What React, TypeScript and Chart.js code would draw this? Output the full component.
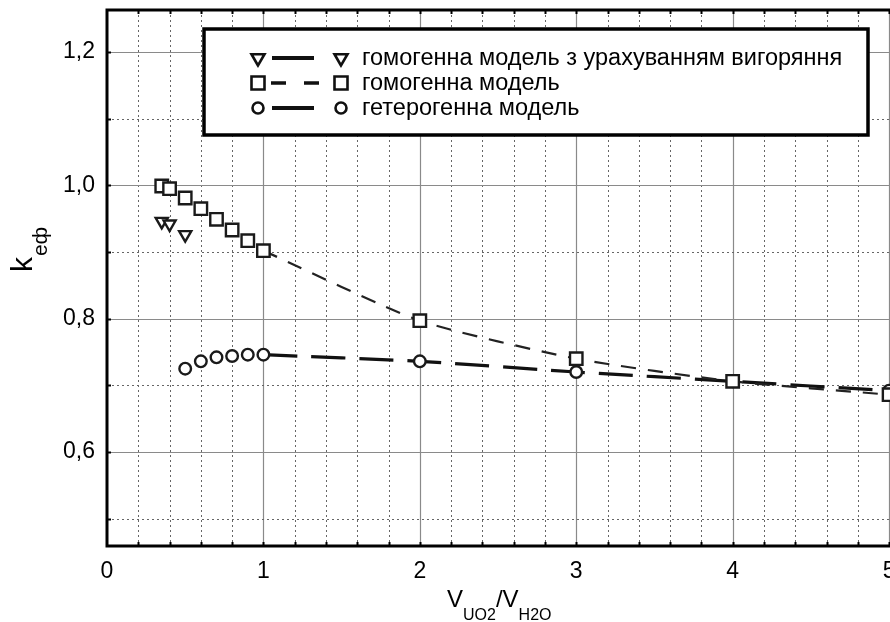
import { useEffect, useRef } from "react";
import { Chart, registerables } from "chart.js";

Chart.register(...registerables);

// ---- data ----
const burnupX = [0.35, 0.4, 0.5];
const burnupY = [0.946, 0.942, 0.926];
const homX = [0.35, 0.4, 0.5, 0.6, 0.7, 0.8, 0.9, 1, 2, 3, 4, 5];
const homY = [0.999, 0.995, 0.981, 0.965, 0.949, 0.933, 0.917, 0.902, 0.797, 0.74, 0.706, 0.686];
const hetX = [0.5, 0.6, 0.7, 0.8, 0.9, 1, 2, 3, 4, 5];
const hetY = [0.725, 0.736, 0.742, 0.744, 0.746, 0.746, 0.736, 0.72, 0.706, 0.692];
const xTickValues = [0, 1, 2, 3, 4, 5];
const yTickValues = [0.6, 0.8, 1.0, 1.2];
const legendLabels = [
  "гомогенна модель з урахуванням вигоряння",
  "гомогенна модель",
  "гетерогенна модель",
];
const xAxisMain = ["V", "/V"];
const xAxisSubs = ["UO2", "H2O"];
const yAxisMain = "k";
const yAxisSub = "еф";

const FONT = "'Liberation Sans', Arial, sans-serif";

const pts = (xs: number[], ys: number[]) => xs.map((x, i) => ({ x, y: ys[i] }));
const fromOne = (xs: number[], ys: number[]) =>
  pts(xs, ys).filter((p) => p.x >= 1);

function drawMarker(ctx: CanvasRenderingContext2D, kind: string, x: number, y: number) {
  ctx.save();
  ctx.lineWidth = 2.6;
  ctx.strokeStyle = "#111";
  ctx.fillStyle = "#fff";
  ctx.beginPath();
  if (kind === "tri") {
    const r = 7.5;
    ctx.moveTo(x, y + r);
    ctx.lineTo(x - r * 0.866, y - r / 2);
    ctx.lineTo(x + r * 0.866, y - r / 2);
    ctx.closePath();
  } else if (kind === "rect") {
    ctx.rect(x - 6.5, y - 6.5, 13, 13);
  } else {
    ctx.arc(x, y, 5.5, 0, Math.PI * 2);
  }
  ctx.fill();
  ctx.stroke();
  ctx.restore();
}

const gridPlugin = {
  id: "customGrid",
  beforeDatasetsDraw(chart: any) {
    const { ctx, chartArea, scales } = chart;
    const { left, right, top, bottom } = chartArea;
    const xs = scales.x;
    const ys = scales.y;
    ctx.save();
    // vertical grid
    for (let i = 1; i <= 26; i++) {
      const v = i * 0.2;
      const px = Math.round(xs.getPixelForValue(v)) + 0.5;
      const major = i % 5 === 0;
      ctx.beginPath();
      if (major) {
        ctx.setLineDash([]);
        ctx.strokeStyle = "#8a8a8a";
        ctx.lineWidth = 1.2;
      } else {
        ctx.setLineDash([2, 3]);
        ctx.strokeStyle = "#666";
        ctx.lineWidth = 1;
      }
      ctx.moveTo(px, top);
      ctx.lineTo(px, bottom);
      ctx.stroke();
    }
    // horizontal grid
    for (let i = 5; i <= 12; i++) {
      const v = i / 10;
      const py = Math.round(ys.getPixelForValue(v)) + 0.5;
      const major = i % 2 === 0;
      ctx.beginPath();
      if (major) {
        ctx.setLineDash([]);
        ctx.strokeStyle = "#8a8a8a";
        ctx.lineWidth = 1.2;
      } else {
        ctx.setLineDash([2, 3]);
        ctx.strokeStyle = "#666";
        ctx.lineWidth = 1;
      }
      ctx.moveTo(left, py);
      ctx.lineTo(right, py);
      ctx.stroke();
    }
    ctx.setLineDash([]);
    // small tick marks
    ctx.strokeStyle = "#000";
    ctx.lineWidth = 2;
    for (let i = 1; i <= 26; i++) {
      const px = Math.round(xs.getPixelForValue(i * 0.2)) + 0.5;
      ctx.beginPath();
      ctx.moveTo(px, top);
      ctx.lineTo(px, top + 4);
      ctx.moveTo(px, bottom);
      ctx.lineTo(px, bottom - 4);
      ctx.stroke();
    }
    for (let i = 5; i <= 12; i++) {
      const py = Math.round(ys.getPixelForValue(i / 10)) + 0.5;
      ctx.beginPath();
      ctx.moveTo(left, py);
      ctx.lineTo(left + 4, py);
      ctx.stroke();
    }
    // frame
    ctx.lineWidth = 3;
    ctx.beginPath();
    ctx.moveTo(left, top);
    ctx.lineTo(right, top);
    ctx.moveTo(left, top - 1.5);
    ctx.lineTo(left, bottom + 1.5);
    ctx.moveTo(left, bottom);
    ctx.lineTo(right, bottom);
    ctx.stroke();
    ctx.restore();
  },
  afterDraw(chart: any) {
    const { ctx } = chart;
    ctx.save();
    // ---- legend ----
    const bx = 204, by = 29, bw = 664, bh = 106;
    ctx.fillStyle = "#fff";
    ctx.fillRect(bx, by, bw, bh);
    ctx.strokeStyle = "#000";
    ctx.lineWidth = 3.5;
    ctx.strokeRect(bx, by, bw, bh);
    const rows = [58, 83, 108];
    const kinds = ["tri", "rect", "circ"];
    const dashes = [[], [15, 18], []];
    rows.forEach((ry, i) => {
      drawMarker(ctx, kinds[i], 258, ry);
      ctx.save();
      ctx.strokeStyle = "#111";
      ctx.lineWidth = i === 1 ? 3.5 : 4;
      ctx.setLineDash(dashes[i]);
      ctx.beginPath();
      ctx.moveTo(i === 1 ? 271 : 272, ry);
      ctx.lineTo(i === 1 ? 332 : 314, ry);
      ctx.stroke();
      ctx.restore();
      drawMarker(ctx, kinds[i], 341, ry);
      ctx.fillStyle = "#000";
      ctx.font = `23.5px ${FONT}`;
      ctx.textBaseline = "middle";
      ctx.textAlign = "left";
      ctx.fillText(legendLabels[i], 362, ry + 1);
    });
    // ---- x axis title ----
    ctx.fillStyle = "#000";
    ctx.textBaseline = "alphabetic";
    ctx.textAlign = "left";
    let tx = 447;
    for (let i = 0; i < xAxisMain.length; i++) {
      ctx.font = `24px ${FONT}`;
      ctx.fillText(xAxisMain[i], tx, 607);
      tx += ctx.measureText(xAxisMain[i]).width;
      ctx.font = `16px ${FONT}`;
      ctx.fillText(xAxisSubs[i], tx, 620);
      tx += ctx.measureText(xAxisSubs[i]).width;
    }
    // ---- y axis title ----
    ctx.translate(32, 272);
    ctx.rotate(-Math.PI / 2);
    ctx.font = `30px ${FONT}`;
    ctx.fillText(yAxisMain, 0, 0);
    const kw = ctx.measureText(yAxisMain).width;
    ctx.font = `21px ${FONT}`;
    ctx.fillText(yAxisSub, kw + 1, 15);
    ctx.restore();
  },
};

const zeroPad = (s: any) => {
  s.paddingTop = 0;
  s.paddingBottom = 0;
  s.paddingLeft = 0;
  s.paddingRight = 0;
};

export default function App() {
  const ref = useRef<HTMLCanvasElement | null>(null);
  useEffect(() => {
    if (!ref.current) return;
    const markerBase = {
      showLine: false,
      borderColor: "#111",
      backgroundColor: "#fff",
      pointBorderWidth: 2.4,
      pointBackgroundColor: "#fff",
      pointBorderColor: "#1a1a1a",
    };
    const chart = new Chart(ref.current, {
      type: "scatter",
      data: {
        datasets: [
          {
            ...markerBase,
            label: legendLabels[0],
            data: pts(burnupX, burnupY),
            pointStyle: "triangle",
            rotation: 180,
            pointRadius: 7,
          },
          {
            ...markerBase,
            label: legendLabels[1],
            data: pts(homX, homY),
            pointStyle: "rect",
            pointRadius: 8.8,
          },
          {
            ...markerBase,
            label: legendLabels[2],
            data: pts(hetX, hetY),
            pointStyle: "circle",
            pointRadius: 5.8,
          },
          {
            label: "hom-line",
            data: fromOne(homX, homY),
            showLine: true,
            borderColor: "#222",
            borderWidth: 2.2,
            borderDash: [15, 12],
            tension: 0.2,
            pointRadius: 0,
          },
          {
            label: "het-line",
            data: fromOne(hetX, hetY),
            showLine: true,
            borderColor: "#111",
            borderWidth: 3.2,
            borderDash: [34, 14],
            tension: 0.2,
            pointRadius: 0,
          },
        ],
      },
      options: {
        animation: false,
        responsive: false,
        devicePixelRatio: 1,
        layout: { autoPadding: false, padding: { top: 10, left: 0, right: 0, bottom: 0 } },
        plugins: { legend: { display: false }, tooltip: { enabled: false } },
        scales: {
          x: {
            type: "linear",
            min: 0,
            max: 5.3,
            grid: { display: false, drawTicks: false, tickLength: 0 },
            border: { display: false },
            afterBuildTicks: (s: any) => {
              s.ticks = xTickValues.map((v) => ({ value: v }));
            },
            afterFit: (s: any) => {
              s.height = 76;
              zeroPad(s);
            },
            ticks: {
              padding: 12,
              maxRotation: 0,
              color: "#000",
              font: { family: FONT, size: 23 },
              callback: (v: any) => String(v),
            },
          },
          y: {
            type: "linear",
            min: 0.459,
            max: 1.263,
            grid: { display: false, drawTicks: false, tickLength: 0 },
            border: { display: false },
            afterBuildTicks: (s: any) => {
              s.ticks = yTickValues.map((v) => ({ value: v }));
            },
            afterFit: (s: any) => {
              s.width = 107;
              zeroPad(s);
            },
            ticks: {
              padding: 12,
              color: "#000",
              font: { family: FONT, size: 23 },
              callback: (v: any) => Number(v).toFixed(1).replace(".", ","),
            },
          },
        },
      },
      plugins: [gridPlugin],
    } as any);
    return () => chart.destroy();
  }, []);
  return (
    <div
      style={{
        position: "absolute",
        left: 0,
        top: 0,
        width: 890,
        height: 622,
        overflow: "hidden",
        background: "#fff",
      }}
    >
      <canvas ref={ref} width={936} height={622} style={{ display: "block" }} />
    </div>
  );
}
